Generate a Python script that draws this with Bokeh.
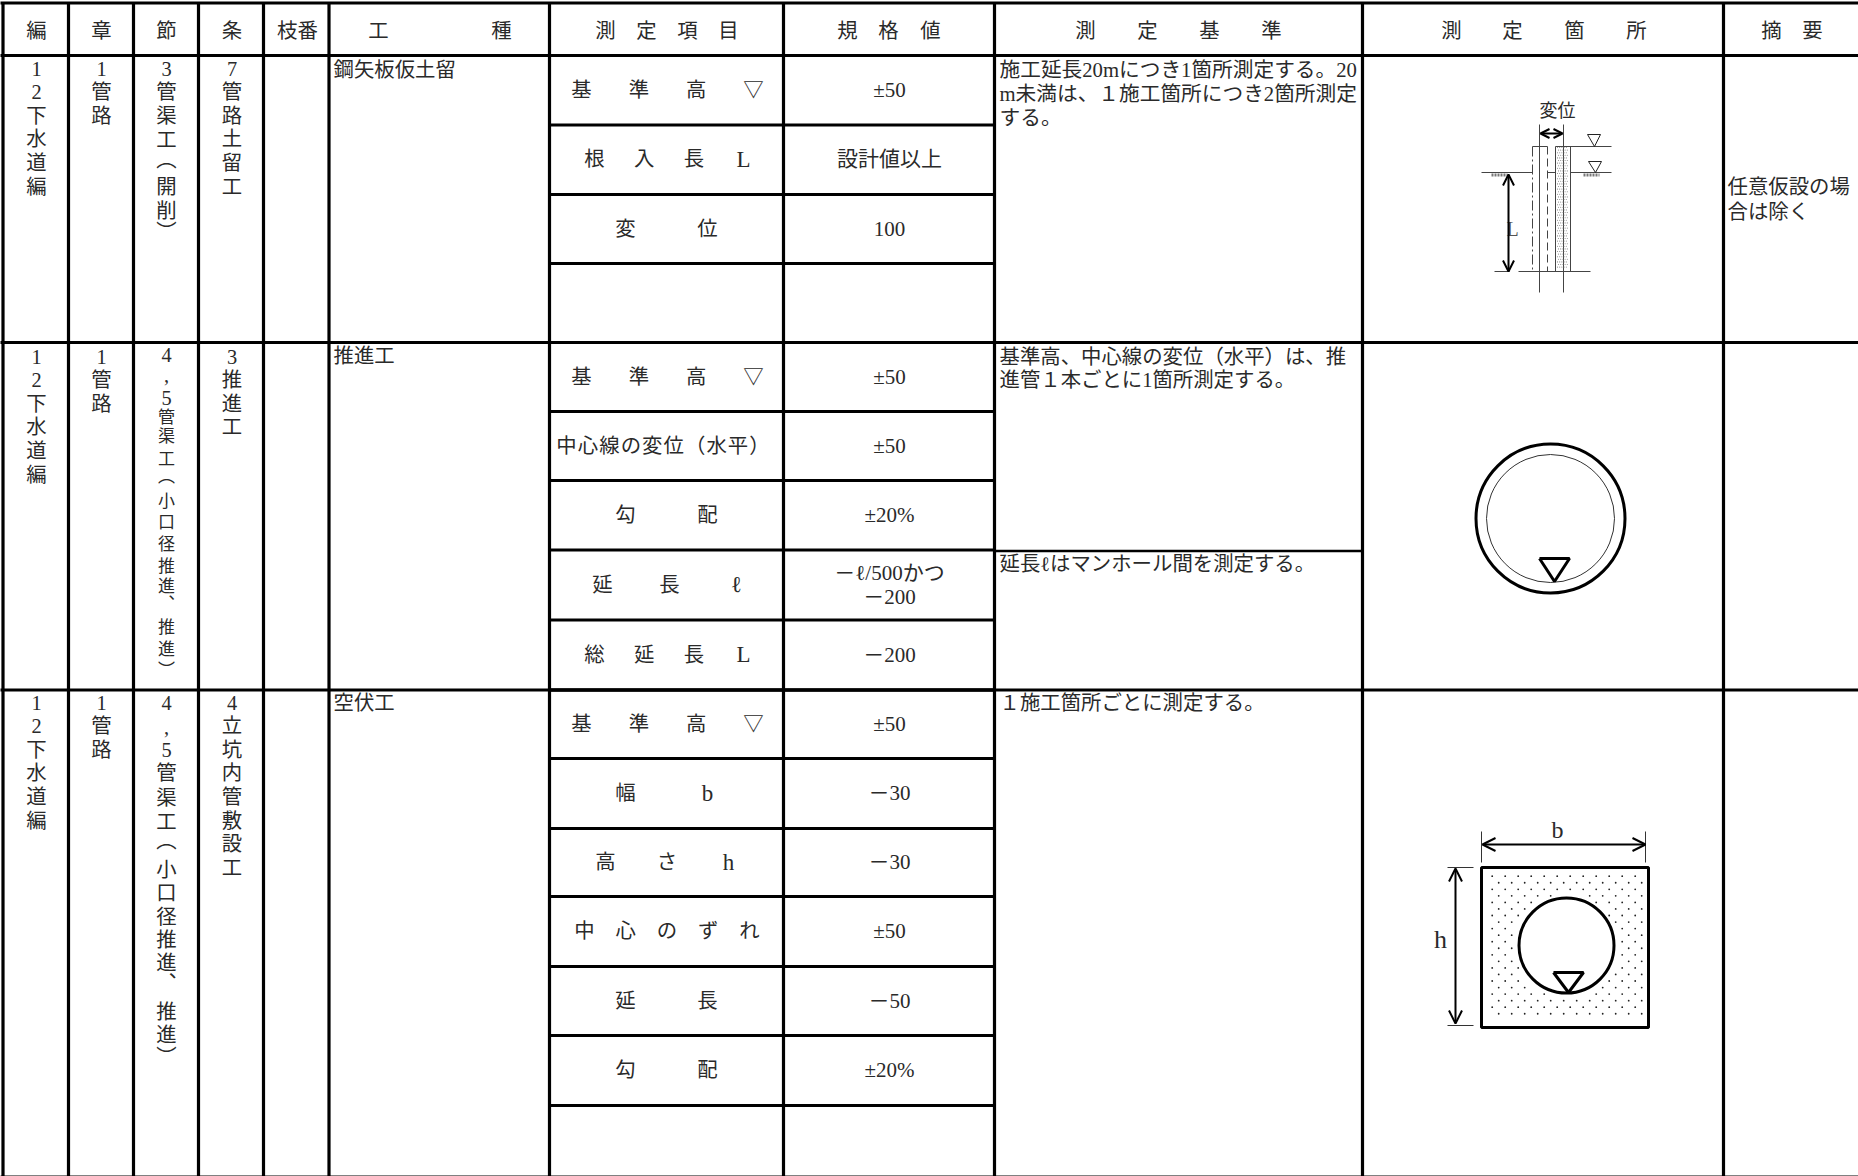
from bokeh.plotting import figure
from bokeh.models import Arrow, OpenHead
from bokeh.core.properties import value
from bokeh.embed import file_html
from bokeh.resources import INLINE

# ---------- table contents ----------
HEADERS = ["編", "章", "節", "条", "枝番", "工", "種", "測", "定", "項", "目", "規", "格", "値",
           "測", "定", "基", "準", "測", "定", "箇", "所", "摘", "要"]
VOLUME = list("12下水道編")
CHAPTER = list("1管路")
SECTION_1 = list("3管渠工︵開削︶")
SECTION_2 = list("4,5管渠工︵小口径推進︑推進︶")
SECTION_3 = list("4,5管渠工︵小口径推進︑推進︶")
ARTICLE_1 = list("7管路土留工")
ARTICLE_2 = list("3推進工")
ARTICLE_3 = list("4立坑内管敷設工")
WORK_TYPES = ["鋼矢板仮土留", "推進工", "空伏工"]

ITEMS_1 = [list("基準高▽"), list("根入長L"), list("変位")]
ITEMS_2 = [list("基準高▽"), list("中心線の変位（水平）"),
           list("勾配"), list("延長ℓ"), list("総延長L")]
ITEMS_3 = [list("基準高▽"), list("幅b"), list("高さh"), list("中心のずれ"), list("延長"), list("勾配")]

VALUES_1 = ["±50", "設計値以上", "100"]
VALUES_2 = ["±50", "±50", "±20%", "－ℓ/500かつ\n－200", "－200"]
VALUES_3 = ["±50", "－30", "－30", "±50", "－50", "±20%"]

CRITERIA_1 = ["施工延長20mにつき1箇所測定する。20", "m未満は、１施工箇所につき2箇所測定", "する。"]
CRITERIA_2A = ["基準高、中心線の変位（水平）は、推", "進管１本ごとに1箇所測定する。"]
CRITERIA_2B = ["延長ℓはマンホール間を測定する。"]
CRITERIA_3 = ["１施工箇所ごとに測定する。"]
REMARKS_1 = ["任意仮設の場", "合は除く"]

# ---------- layout of the sheet ----------
W, H = 1858, 1176
COLUMN_LINES = [3.5, 69, 134, 199, 264, 329.5, 550, 784, 995, 1363, 1724]
MAIN_ROW_LINES = [3.5, 56, 343, 690.5]
SUB_ROWS_1 = [56, 125.5, 195, 264, 343]
SUB_ROWS_2 = [343, 412, 481, 550.5, 620.5, 690.5]
SUB_ROWS_3 = [690.5, 759, 829, 897, 967, 1036, 1106, 1175]
COLUMN_CENTRES = [37, 102, 167, 232.5]
HEADER_X = [37, 102, 167, 232.5, 298, 379, 502, 606, 647, 688, 729, 848, 889, 931,
            1086, 1148, 1210, 1272, 1452, 1513, 1575, 1637, 1772, 1813]
HEADER_Y = 31
PITCH = 23.6
TOPS = [69, 357, 703]
SECTION_1_Y = [69, 92, 116, 140, 160, 187, 211, 232]
SECTION_2_Y = [355, 375, 398, 418, 437, 460, 477, 502, 523, 545, 567, 587, 605, 628, 650, 671]
SECTION_3_Y = [703, 727, 750, 773, 798, 822, 841, 870, 893, 917, 940, 963, 983, 1012, 1035, 1057]
ITEM_X_1 = [(582, 754), (595, 744), (626, 708)]
ITEM_X_2 = [(582, 754), (567, 760), (626, 708), (603, 737), (595, 744)]
ITEM_X_3 = [(582, 754), (626, 708), (606, 729), (585, 750), (626, 708), (626, 708)]

FONT = '"Liberation Serif", "Noto Sans CJK JP"'
INK = "#2a2a2a"

p = figure(width=W, height=H, x_range=(1, W + 1), y_range=(H + 1, 1), output_backend="svg",
           toolbar_location=None, min_border=0, margin=(0, 0, 0, 0),
           outline_line_color=None, background_fill_color="white", border_fill_color="white")
p.axis.visible = False
p.grid.visible = False


def label(xs, ys, texts, size=20.4, align="center", color=INK):
    p.text(x=xs, y=ys, text=texts, text_font=value(FONT), text_font_size=f"{size}px",
           text_align=align, text_baseline="middle", text_color=color)


def stack(x, top, chars, ys=None, size=20.4):
    y_list = ys if ys is not None else [top + i * PITCH for i in range(len(chars))]
    for ch, y in zip(chars, y_list):
        label([x], [y], [ch], size=20.4 if ch.isascii() else size)


# ---------- grid ----------
p.segment(x0=COLUMN_LINES, y0=[3.5] * len(COLUMN_LINES), x1=COLUMN_LINES, y1=[H + 1] * len(COLUMN_LINES),
          line_color="black", line_width=3.2)
p.segment(x0=[0] * len(MAIN_ROW_LINES), y0=MAIN_ROW_LINES, x1=[W + 1] * len(MAIN_ROW_LINES), y1=MAIN_ROW_LINES,
          line_color="black", line_width=3.2)
for rows_ in (SUB_ROWS_1, SUB_ROWS_2, SUB_ROWS_3[:-1]):
    p.segment(x0=[550] * len(rows_), y0=rows_, x1=[996.5] * len(rows_), y1=rows_, line_color="black", line_width=3.2)
p.segment(x0=[995], y0=[551.5], x1=[1363], y1=[551.5], line_color="black", line_width=2.5)
p.segment(x0=[0], y0=[1176.5], x1=[W + 1], y1=[1176.5], line_color="black", line_width=1)

# ---------- headers and the stacked columns ----------
label(HEADER_X, [HEADER_Y] * len(HEADERS), HEADERS)
for top in TOPS:
    stack(COLUMN_CENTRES[0], top, VOLUME)
    stack(COLUMN_CENTRES[1], top, CHAPTER)
stack(COLUMN_CENTRES[2], 0, SECTION_1, SECTION_1_Y)
stack(COLUMN_CENTRES[2], 0, SECTION_2, SECTION_2_Y, size=17)
stack(COLUMN_CENTRES[2], 0, SECTION_3, SECTION_3_Y)
stack(COLUMN_CENTRES[3], TOPS[0], ARTICLE_1)
stack(COLUMN_CENTRES[3], TOPS[1], ARTICLE_2)
stack(COLUMN_CENTRES[3], TOPS[2], ARTICLE_3)
label([334] * 3, [70, 356, 703], WORK_TYPES, align="left")


# ---------- measured items and their limits ----------
def rows(items, spans, values, lines):
    for i, (tokens, (x0, x1)) in enumerate(zip(items, spans)):
        y = (lines[i] + lines[i + 1]) / 2 - 0.5
        step = (x1 - x0) / (len(tokens) - 1)
        for k, tok in enumerate(tokens):
            label([x0 + k * step], [y], [tok], size=23 if tok.isascii() or tok == "ℓ" else 20.4)
    for i, v in enumerate(values):
        y = (lines[i] + lines[i + 1]) / 2 - 0.5
        parts = v.split("\n")
        if len(parts) == 1:
            label([890], [y], parts, size=21)
        else:
            label([890, 890], [y - 12, y + 12], parts, size=21)


rows(ITEMS_1, ITEM_X_1, VALUES_1, SUB_ROWS_1)
rows(ITEMS_2, ITEM_X_2, VALUES_2, SUB_ROWS_2)
rows(ITEMS_3, ITEM_X_3, VALUES_3, SUB_ROWS_3)

# ---------- free text ----------
label([1000] * 3, [70, 94, 118], CRITERIA_1, align="left", size=20.7)
label([1000] * 2, [357, 380], CRITERIA_2A, align="left")
label([1000], [564], CRITERIA_2B, align="left")
label([1000], [703], CRITERIA_3, align="left")
label([1728] * 2, [187, 212], REMARKS_1, align="left")

# ---------- sketch 1: sheet pile ----------
THIN = "#444444"
p.segment(x0=[1540, 1564], y0=[125, 125], x1=[1540, 1564], y1=[293, 293], line_color=THIN, line_width=1)
p.segment(x0=[1533], y0=[147], x1=[1533], y1=[272], line_color=THIN, line_width=1, line_dash="10 3 2 3")
p.segment(x0=[1548], y0=[147], x1=[1548], y1=[272], line_color=THIN, line_width=1, line_dash="8 4")
p.segment(x0=[1556, 1571], y0=[147, 147], x1=[1556, 1571], y1=[272, 272], line_color=THIN, line_width=1)
p.segment(x0=[1533, 1556, 1482, 1548, 1571, 1495, 1519],
          y0=[147, 147, 173, 173, 173, 272, 272],
          x1=[1548, 1612, 1533, 1556, 1612, 1510, 1591],
          y1=[147, 147, 173, 173, 173, 272, 272], line_color=THIN, line_width=1)
pile_rows = [148 + 2.6 * i for i in range(47)]
pile_x = [1558 + 2.2 * k + (i % 2) for i in range(len(pile_rows)) for k in range(5)]
pile_y = [y for y in pile_rows for k in range(5)]
p.circle(x=pile_x, y=pile_y, radius=0.55, fill_color="#888888", line_color=None)
p.segment(x0=[1492, 1584], y0=[175.5, 175.5], x1=[1508, 1600], y1=[175.5, 175.5],
          line_color="#777777", line_width=3, line_dash="2 1")
p.multi_line(xs=[[1588, 1601, 1595, 1588], [1589, 1602, 1596, 1589]],
             ys=[[135, 135, 147, 135], [162, 162, 173, 162]], line_color="#222222", line_width=1)
p.add_layout(Arrow(start=OpenHead(size=9, line_width=2), end=OpenHead(size=9, line_width=2),
                   x_start=1541, y_start=134, x_end=1563, y_end=134, line_width=2, line_color="black"))
p.add_layout(Arrow(start=OpenHead(size=11, line_width=2), end=OpenHead(size=11, line_width=2),
                   x_start=1509, y_start=175, x_end=1509, y_end=272, line_width=2, line_color="black"))
label([1558], [111], ["変位"], size=18)
label([1513], [229], ["L"], size=20, color="#555555")

# ---------- sketch 2: pipe ----------
p.circle(x=[1551], y=[519], radius=74.5, fill_color=None, line_color="black", line_width=3)
p.circle(x=[1551], y=[519], radius=64, fill_color=None, line_color="#333333", line_width=1)
p.multi_line(xs=[[1540, 1570, 1555, 1540]], ys=[[559, 559, 582, 559]], line_color="black", line_width=3)

# ---------- sketch 3: filled trench ----------
dots_x, dots_y = [], []
for r in range(22):
    y = 876.7 + 6.55 * r
    for c in range(12):
        x = 1492.7 + 13 * c + (6.5 if r % 2 else 0)
        if (x - 1567) ** 2 + (y - 946) ** 2 > 52 ** 2 and x < 1647:
            dots_x.append(x)
            dots_y.append(y)
p.circle(x=dots_x, y=dots_y, radius=0.9, fill_color="#222222", line_color=None)
p.quad(left=[1482], right=[1649], top=[868], bottom=[1028], fill_color=None, line_color="black", line_width=3)
p.circle(x=[1567], y=[946], radius=47.5, fill_color=None, line_color="black", line_width=3)
p.multi_line(xs=[[1554, 1584, 1569, 1554]], ys=[[973, 973, 993, 973]], line_color="black", line_width=3)
p.segment(x0=[1482, 1646, 1448, 1448], y0=[832, 832, 868, 1026],
          x1=[1482, 1646, 1474, 1474], y1=[863, 863, 868, 1026], line_color="#333333", line_width=1)
p.add_layout(Arrow(start=OpenHead(size=13, line_width=2), end=OpenHead(size=13, line_width=2),
                   x_start=1483, y_start=845, x_end=1646, y_end=845, line_width=2, line_color="black"))
p.add_layout(Arrow(start=OpenHead(size=13, line_width=2), end=OpenHead(size=13, line_width=2),
                   x_start=1456, y_start=869, x_end=1456, y_end=1024, line_width=2, line_color="black"))
label([1558], [830], ["b"], size=24)
label([1441], [940], ["h"], size=26)

open("out.html", "w").write(file_html(p, INLINE))
